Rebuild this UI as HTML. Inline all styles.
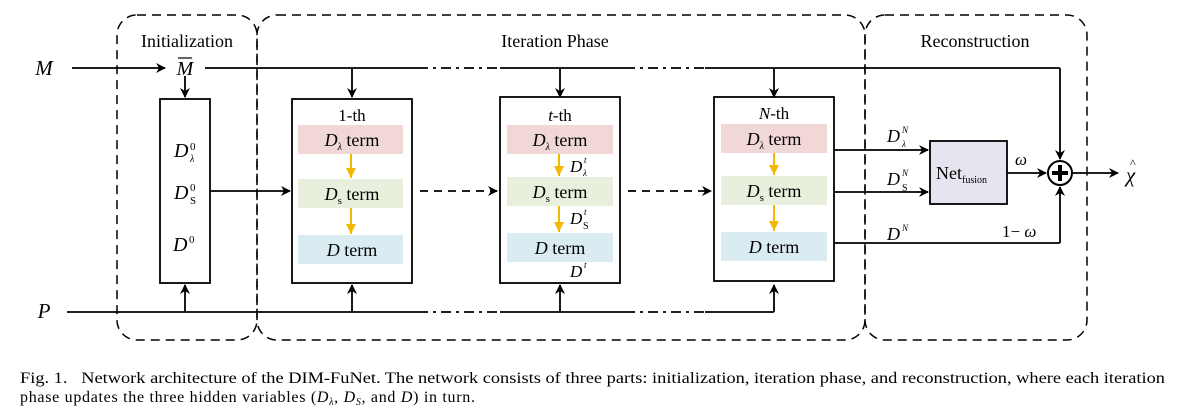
<!DOCTYPE html>
<html><head><meta charset="utf-8"><style>
body{margin:0;background:#fff;width:1184px;height:415px;overflow:hidden}
svg{display:block}
text{font-family:"Liberation Serif",serif;fill:#000}
.i{font-style:italic}
</style></head><body>
<svg width="1184" height="415" viewBox="0 0 1184 415">
<defs>
<marker id="a" markerWidth="10" markerHeight="10" refX="9" refY="5" orient="auto" markerUnits="userSpaceOnUse"><path d="M0,0 L10,5 L0,10 L3,5z" fill="#000"/></marker>
<marker id="y" markerWidth="12" markerHeight="10" refX="10" refY="5" orient="auto" markerUnits="userSpaceOnUse"><path d="M0,0 L10,5 L0,10z" fill="#f5b800"/></marker>
</defs>
<g fill="none" stroke="#000" stroke-width="1.5" stroke-dasharray="9,6">
<rect x="117" y="15" width="140" height="325" rx="20"/>
<rect x="257" y="15" width="608" height="325" rx="20"/>
<rect x="865" y="15" width="222" height="325" rx="20"/>
</g>
<text x="187" y="47" font-size="18" text-anchor="middle">Initialization</text>
<text x="555" y="47" font-size="18" text-anchor="middle">Iteration Phase</text>
<text x="975" y="47" font-size="18" text-anchor="middle">Reconstruction</text>
<text x="44" y="75" font-size="21" class="i" text-anchor="middle">M</text>
<text x="44" y="318" font-size="21" class="i" text-anchor="middle">P</text>
<text x="185" y="75" font-size="20" class="i" text-anchor="middle">M</text>
<line x1="178" y1="58" x2="192" y2="58" stroke="#000" stroke-width="1.2"/>
<g stroke="#000" stroke-width="1.8" fill="none">
<line x1="72" y1="68" x2="165" y2="68" marker-end="url(#a)"/>
<line x1="205" y1="68" x2="418" y2="68"/>
<line x1="418" y1="68" x2="500" y2="68" stroke-dasharray="10,5,3,5"/>
<line x1="500" y1="68" x2="625" y2="68"/>
<line x1="625" y1="68" x2="705" y2="68" stroke-dasharray="10,5,3,5"/>
<line x1="705" y1="68" x2="1060" y2="68"/>
<line x1="1060" y1="68" x2="1060" y2="159" marker-end="url(#a)"/>
<line x1="185" y1="76" x2="185" y2="97" marker-end="url(#a)"/>
<line x1="352" y1="68" x2="352" y2="97" marker-end="url(#a)"/>
<line x1="560" y1="68" x2="560" y2="97" marker-end="url(#a)"/>
<line x1="774" y1="68" x2="774" y2="97" marker-end="url(#a)"/>
<line x1="67" y1="312" x2="418" y2="312"/>
<line x1="418" y1="312" x2="500" y2="312" stroke-dasharray="10,5,3,5"/>
<line x1="500" y1="312" x2="625" y2="312"/>
<line x1="625" y1="312" x2="705" y2="312" stroke-dasharray="10,5,3,5"/>
<line x1="705" y1="312" x2="774" y2="312"/>
<line x1="185" y1="312" x2="185" y2="285" marker-end="url(#a)"/>
<line x1="352" y1="312" x2="352" y2="285" marker-end="url(#a)"/>
<line x1="560" y1="312" x2="560" y2="285" marker-end="url(#a)"/>
<line x1="774" y1="312" x2="774" y2="285" marker-end="url(#a)"/>
<line x1="210" y1="191" x2="290" y2="191" marker-end="url(#a)"/>
<line x1="420" y1="191" x2="497" y2="191" stroke-dasharray="8,6" marker-end="url(#a)"/>
<line x1="628" y1="191" x2="711" y2="191" stroke-dasharray="8,6" marker-end="url(#a)"/>
<line x1="834" y1="150" x2="928" y2="150" marker-end="url(#a)"/>
<line x1="834" y1="192" x2="928" y2="192" marker-end="url(#a)"/>
<line x1="834" y1="243" x2="1060" y2="243"/>
<line x1="1060" y1="243" x2="1060" y2="187" marker-end="url(#a)"/>
<line x1="1007" y1="173" x2="1046" y2="173" marker-end="url(#a)"/>
<line x1="1073" y1="173" x2="1118" y2="173" marker-end="url(#a)"/>
<rect x="160" y="99" width="50" height="184"/>
</g>
<text x="174" y="157" font-size="20" class="i">D</text><text x="190" y="150" font-size="11">0</text><text x="190" y="162" font-size="10" class="i">λ</text>
<text x="174" y="199" font-size="20" class="i">D</text><text x="190" y="191" font-size="11">0</text><text x="190" y="204" font-size="11">S</text>
<text x="173" y="251" font-size="20" class="i">D</text><text x="189" y="243" font-size="11">0</text>
<g>
<rect x="292" y="99" width="120" height="184" fill="#fff" stroke="#000" stroke-width="1.8"/>
<text x="352" y="121" font-size="17" text-anchor="middle">1-th</text>
<rect x="298" y="125" width="105" height="29" fill="#f1d8d7"/>
<rect x="298" y="179" width="105" height="29" fill="#e8f0dd"/>
<rect x="298" y="235" width="105" height="29" fill="#daecf1"/>
<text x="352" y="146" font-size="18" text-anchor="middle"><tspan class="i">D</tspan><tspan font-size="10" dy="4" class="i">λ</tspan><tspan dy="-4"> term</tspan></text>
<text x="352" y="200" font-size="18" text-anchor="middle"><tspan class="i">D</tspan><tspan font-size="11" dy="4">s</tspan><tspan dy="-4"> term</tspan></text>
<text x="352" y="256" font-size="18" text-anchor="middle"><tspan class="i">D</tspan> term</text>
<line x1="351" y1="154" x2="351" y2="178" stroke="#f5b800" stroke-width="2" marker-end="url(#y)"/>
<line x1="351" y1="208" x2="351" y2="234" stroke="#f5b800" stroke-width="2" marker-end="url(#y)"/>
</g>
<g>
<rect x="500" y="97" width="120" height="186" fill="#fff" stroke="#000" stroke-width="1.8"/>
<text x="560" y="121" font-size="17" text-anchor="middle"><tspan class="i">t</tspan>-th</text>
<rect x="507" y="125" width="106" height="29" fill="#f1d8d7"/>
<rect x="507" y="177" width="106" height="29" fill="#e8f0dd"/>
<rect x="507" y="233" width="106" height="29" fill="#daecf1"/>
<text x="560" y="146" font-size="18" text-anchor="middle"><tspan class="i">D</tspan><tspan font-size="10" dy="4" class="i">λ</tspan><tspan dy="-4"> term</tspan></text>
<text x="560" y="198" font-size="18" text-anchor="middle"><tspan class="i">D</tspan><tspan font-size="11" dy="4">s</tspan><tspan dy="-4"> term</tspan></text>
<text x="560" y="254" font-size="18" text-anchor="middle"><tspan class="i">D</tspan> term</text>
<line x1="559" y1="154" x2="559" y2="176" stroke="#f5b800" stroke-width="2" marker-end="url(#y)"/>
<line x1="559" y1="206" x2="559" y2="232" stroke="#f5b800" stroke-width="2" marker-end="url(#y)"/>
<text x="570" y="172" font-size="17" class="i">D</text><text x="584" y="163" font-size="9" class="i">t</text><text x="583" y="176" font-size="9" class="i">λ</text>
<text x="570" y="224" font-size="17" class="i">D</text><text x="584" y="215" font-size="9" class="i">t</text><text x="583" y="229" font-size="10">S</text>
<text x="570" y="277" font-size="17" class="i">D</text><text x="584" y="268" font-size="9" class="i">t</text>
</g>
<g>
<rect x="714" y="97" width="120" height="184" fill="#fff" stroke="#000" stroke-width="1.8"/>
<text x="774" y="119" font-size="17" text-anchor="middle"><tspan class="i">N</tspan>-th</text>
<rect x="721" y="124" width="106" height="29" fill="#f1d8d7"/>
<rect x="721" y="176" width="106" height="29" fill="#e8f0dd"/>
<rect x="721" y="232" width="106" height="29" fill="#daecf1"/>
<text x="774" y="145" font-size="18" text-anchor="middle"><tspan class="i">D</tspan><tspan font-size="10" dy="4" class="i">λ</tspan><tspan dy="-4"> term</tspan></text>
<text x="774" y="197" font-size="18" text-anchor="middle"><tspan class="i">D</tspan><tspan font-size="11" dy="4">s</tspan><tspan dy="-4"> term</tspan></text>
<text x="774" y="253" font-size="18" text-anchor="middle"><tspan class="i">D</tspan> term</text>
<line x1="774" y1="153" x2="774" y2="175" stroke="#f5b800" stroke-width="2" marker-end="url(#y)"/>
<line x1="774" y1="205" x2="774" y2="231" stroke="#f5b800" stroke-width="2" marker-end="url(#y)"/>
</g>
<text x="887" y="142" font-size="18" class="i">D</text><text x="902" y="133" font-size="9" class="i">N</text><text x="902" y="147" font-size="9" class="i">λ</text>
<text x="887" y="185" font-size="18" class="i">D</text><text x="902" y="176" font-size="9" class="i">N</text><text x="902" y="191" font-size="10">S</text>
<text x="887" y="240" font-size="18" class="i">D</text><text x="902" y="231" font-size="9" class="i">N</text>
<rect x="930" y="141" width="77" height="63" fill="#e8e4ef" stroke="#000" stroke-width="1.8"/>
<text x="936" y="179" font-size="18">Net<tspan font-size="10" dy="4">fusion</tspan></text>
<text x="1015" y="165" font-size="17" class="i">ω</text>
<text x="1002" y="237" font-size="17">1− <tspan class="i">ω</tspan></text>
<circle cx="1060" cy="173" r="12" fill="#fff" stroke="#000" stroke-width="2"/>
<path d="M1060,165 V181 M1052,173 H1068" stroke="#000" stroke-width="4"/>
<text x="1126" y="182" font-size="21" class="i">χ</text><text x="1130" y="167" font-size="12">^</text>
<text x="20" y="383" font-size="16" textLength="1145" lengthAdjust="spacingAndGlyphs">Fig. 1.&#160;&#160;&#160;Network architecture of the DIM-FuNet. The network consists of three parts: initialization, iteration phase, and reconstruction, where each iteration</text>
<text x="20" y="402" font-size="16" letter-spacing="0.7">phase updates the three hidden variables (<tspan class="i">D</tspan><tspan font-size="10" class="i" dy="3">λ</tspan><tspan dy="-3">, </tspan><tspan class="i">D</tspan><tspan font-size="10" class="i" dy="3">S</tspan><tspan dy="-3">, and </tspan><tspan class="i">D</tspan>) in turn.</text>
</svg>
</body></html>
